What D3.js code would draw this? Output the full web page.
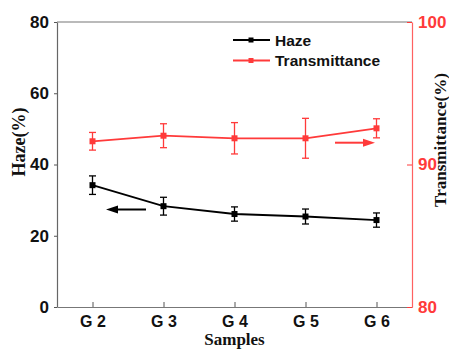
<!DOCTYPE html>
<html><head><meta charset="utf-8">
<script src="https://cdn.jsdelivr.net/npm/d3@7"></script>
<style>body{margin:0;background:#fff}svg{display:block}</style>
</head><body>
<script>
const categories = ["G 2","G 3","G 4","G 5","G 6"];
const hazeValues = [34.2, 28.3, 26.1, 25.4, 24.4];
const hazeErrors = [2.6, 2.5, 2.0, 2.1, 2.0];
const transValues = [91.63, 92.02, 91.84, 91.84, 92.54];
const transErrors = [0.62, 0.84, 1.1, 1.4, 0.67];
const hazeTicks = [0, 20, 40, 60, 80];
const transTicks = [80, 90, 100];
const seriesNames = ["Haze", "Transmittance"];

const W = 449, H = 349;
const m = {l: 57, r: 412, t: 22, b: 307};
const RED = "#ff3a3a";

const svg = d3.select("body").append("svg").attr("width", W).attr("height", H);

const x = d3.scalePoint().domain(categories).range([m.l, m.r]).padding(0.5);
const yL = d3.scaleLinear().domain([0, 80]).range([m.b, m.t]);
const yR = d3.scaleLinear().domain([80, 100]).range([m.b, m.t]);

// frame
svg.append("line").attr("x1", m.l).attr("x2", m.r).attr("y1", m.t).attr("y2", m.t).attr("stroke", "#777").attr("stroke-width", 1.2);

// bottom axis
const gx = svg.append("g").attr("transform", `translate(0,${m.b})`)
  .call(d3.axisBottom(x).tickSize(-5).tickSizeOuter(0).tickPadding(9));
gx.select(".domain").attr("stroke", "#777").attr("stroke-width", 1.2);
gx.selectAll(".tick line").attr("stroke", "#555");
gx.selectAll("text").attr("font-family", "Liberation Sans, Arial, sans-serif").attr("font-weight", "bold").attr("font-size", 16).attr("fill", "#111");

// left axis
const gl = svg.append("g").attr("transform", `translate(${m.l},0)`)
  .call(d3.axisLeft(yL).tickValues(hazeTicks).tickSize(3).tickSizeOuter(0).tickPadding(5));
gl.select(".domain").attr("stroke", "#666").attr("stroke-width", 1.2);
gl.selectAll(".tick line").attr("stroke", "#555");
gl.selectAll("text").attr("font-family", "Liberation Sans, Arial, sans-serif").attr("font-weight", "bold").attr("font-size", 17).attr("fill", "#111");

// right axis
const gr = svg.append("g").attr("transform", `translate(${m.r},0)`)
  .call(d3.axisRight(yR).tickValues(transTicks).tickSize(-5).tickSizeOuter(0).tickPadding(6));
gr.select(".domain").attr("stroke", RED).attr("stroke-width", 1.2).attr("opacity", 0.8);
gr.selectAll(".tick line").attr("stroke", RED);
gr.selectAll("text").attr("font-family", "Liberation Sans, Arial, sans-serif").attr("font-weight", "bold").attr("font-size", 17).attr("fill", RED);

// titles
const serif = "Liberation Serif, Times New Roman, serif";
svg.append("text").attr("x", x("G 4")).attr("y", 345).attr("text-anchor", "middle")
  .attr("font-family", serif).attr("font-weight", "bold").attr("font-size", 17).attr("fill", "#111").text("Samples");
svg.append("text").attr("transform", "translate(25,142) rotate(-90)").attr("text-anchor", "middle")
  .attr("font-family", serif).attr("font-weight", "bold").attr("font-size", 18).attr("fill", "#111").text("Haze(%)");
svg.append("text").attr("transform", "translate(446,140) rotate(-90)").attr("text-anchor", "middle")
  .attr("font-family", serif).attr("font-weight", "bold").attr("font-size", 17).attr("fill", "#111").text("Transmittance(%)");

function drawSeries(vals, errs, y, color) {
  const g = svg.append("g");
  const data = categories.map((c, i) => ({c, v: vals[i], e: errs[i]}));
  g.append("path").datum(data)
    .attr("d", d3.line().x(d => x(d.c)).y(d => y(d.v)))
    .attr("fill", "none").attr("stroke", color).attr("stroke-width", 1.8);
  data.forEach(d => {
    const cx = x(d.c), y1 = y(d.v + d.e), y2 = y(d.v - d.e);
    g.append("line").attr("x1", cx).attr("x2", cx).attr("y1", y1).attr("y2", y2).attr("stroke", color).attr("stroke-width", 1.3);
    [y1, y2].forEach(yy => g.append("line").attr("x1", cx - 3.5).attr("x2", cx + 3.5).attr("y1", yy).attr("y2", yy).attr("stroke", color).attr("stroke-width", 1.3));
    g.append("rect").attr("x", cx - 3).attr("y", y(d.v) - 3).attr("width", 6).attr("height", 6).attr("fill", color);
  });
}
drawSeries(hazeValues, hazeErrors, yL, "#000");
drawSeries(transValues, transErrors, yR, RED);

// arrows
function arrow(x1, x2, yy, color) {
  const dir = Math.sign(x2 - x1);
  svg.append("line").attr("x1", x1).attr("x2", x2 - dir * 10).attr("y1", yy).attr("y2", yy).attr("stroke", color).attr("stroke-width", 2);
  svg.append("path").attr("d", `M${x2},${yy} L${x2 - dir * 12},${yy - 4} L${x2 - dir * 12},${yy + 4} Z`).attr("fill", color);
}
arrow(146, 106, 209.5, "#000");
arrow(335, 375, 142.7, RED);

// legend
const lg = svg.append("g");
[["#000", 40], [RED, 60.5]].forEach(([c, yy], i) => {
  lg.append("line").attr("x1", 233).attr("x2", 270).attr("y1", yy).attr("y2", yy).attr("stroke", c).attr("stroke-width", 1.8);
  lg.append("rect").attr("x", 248.5).attr("y", yy - 2.5).attr("width", 5).attr("height", 5).attr("fill", c);
  lg.append("text").attr("x", 275).attr("y", yy + 5.5).attr("font-family", "Liberation Sans, Arial, sans-serif")
    .attr("font-weight", "bold").attr("font-size", 15.5).attr("fill", "#111").text(seriesNames[i]);
});
</script>
</body></html>
